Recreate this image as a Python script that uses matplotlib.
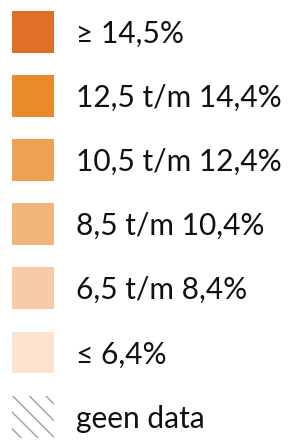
import matplotlib.pyplot as plt

labels = ["≥ 14,5%", "12,5 t/m 14,4%", "10,5 t/m 12,4%", "8,5 t/m 10,4%",
          "6,5 t/m 8,4%", "≤ 6,4%", "geen data"]
colors = ["#e07027", "#e78b2b", "#eda253", "#f2b67c", "#f7cba5", "#fbe3cf", "white"]
rows = list(range(len(labels)))

plt.rcParams["hatch.linewidth"] = 1.0

fig = plt.figure(figsize=(2.92, 4.40), dpi=100)
ax = fig.add_axes([0, 0, 1, 1])
ax.set_xlim(0, 292)
ax.set_ylim(6.363, -0.491)
ax.axis("off")

bars = ax.barh(rows, 42, left=12, height=0.654, color=colors, linewidth=0)
bars[-1].set_hatch("\\\\")
bars[-1].set_edgecolor("#a0a0a0")

for r, lab in zip(rows, labels):
    ax.text(76, r + 0.03, lab, fontsize=21.5, family="Lato", color="#111111", va="center")

fig.savefig("out.png", dpi=100)
